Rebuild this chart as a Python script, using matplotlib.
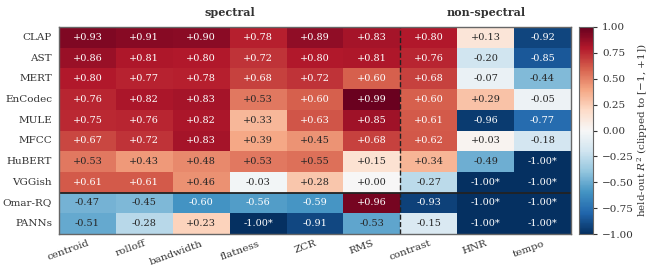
import numpy as np
import matplotlib
matplotlib.use("Agg")
import matplotlib.pyplot as plt
import seaborn as sns

models = ["CLAP", "AST", "MERT", "EnCodec", "MULE", "MFCC", "HuBERT", "VGGish", "Omar-RQ", "PANNs"]
features = ["centroid", "rolloff", "bandwidth", "flatness", "ZCR", "RMS", "contrast", "HNR", "tempo"]

vals_centroid = [0.93, 0.86, 0.80, 0.76, 0.75, 0.67, 0.53, 0.61, -0.47, -0.51]
vals_rolloff = [0.91, 0.81, 0.77, 0.82, 0.76, 0.72, 0.43, 0.61, -0.45, -0.28]
vals_bandwidth = [0.90, 0.80, 0.78, 0.83, 0.82, 0.83, 0.48, 0.46, -0.60, 0.23]
vals_flatness = [0.78, 0.72, 0.68, 0.53, 0.33, 0.39, 0.53, -0.03, -0.56, -1.00]
vals_zcr = [0.89, 0.80, 0.72, 0.60, 0.63, 0.45, 0.55, 0.28, -0.59, -0.91]
vals_rms = [0.83, 0.81, 0.60, 0.99, 0.85, 0.68, 0.15, 0.00, 0.96, -0.53]
vals_contrast = [0.80, 0.76, 0.68, 0.60, 0.61, 0.62, 0.34, -0.27, -0.93, -0.15]
vals_hnr = [0.13, -0.20, -0.07, 0.29, -0.96, 0.03, -0.49, -1.00, -1.00, -1.00]
vals_tempo = [-0.92, -0.85, -0.44, -0.05, -0.77, -0.18, -1.00, -1.00, -1.00, -1.00]
# cells whose raw value was clipped at -1
clipped = [(9, 3), (6, 8), (7, 7), (7, 8), (8, 7), (8, 8), (9, 7), (9, 8)]

data = np.array([vals_centroid, vals_rolloff, vals_bandwidth, vals_flatness, vals_zcr,
                 vals_rms, vals_contrast, vals_hnr, vals_tempo]).T

plt.rcParams['font.family'] = ['DejaVu Serif']
plt.rcParams['mathtext.fontset'] = 'dejavuserif'

fig = plt.figure(figsize=(6.51, 2.74), dpi=100)
W, H = 651, 274
ax = fig.add_axes([59 / W, (H - 234) / H, 512 / W, 207 / H])
cax = fig.add_axes([579 / W, (H - 234) / H, 14 / W, 207 / H])

sns.heatmap(data, ax=ax, cbar_ax=cax, cmap="RdBu_r", vmin=-1, vmax=1,
            annot=False, xticklabels=features, yticklabels=models)

for i in range(data.shape[0]):
    for j in range(data.shape[1]):
        v = data[i, j]
        s = ("+%.2f" % v) if v >= 0 else ("-%.2f" % abs(v))
        if (i, j) in clipped:
            s += "*"
        col = "white" if abs(v) > 0.555 else "#262626"
        ax.text(j + 0.5, i + 0.5, s, ha="center", va="center", fontsize=7, color=col)

for sp in ax.spines.values():
    sp.set_visible(True)
    sp.set_color("#666666")
    sp.set_linewidth(1.0)

ax.axvline(6, color="#222222", linestyle="--", linewidth=1.0)
ax.axhline(8, color="#222222", linestyle="-", linewidth=1.3)

ax.tick_params(axis="both", length=0, labelsize=7.5, colors="#333333")
ax.tick_params(axis="y", pad=5)
ax.set_yticklabels(models, rotation=0)
ax.set_xticklabels(features, rotation=20, ha="right", rotation_mode="anchor")

ax.text(3, -0.45, "spectral", ha="center", va="bottom", fontsize=8, fontweight="bold", color="#333333")
ax.text(7.5, -0.45, "non-spectral", ha="center", va="bottom", fontsize=8, fontweight="bold", color="#333333")

cax.tick_params(labelsize=7.5, length=3, colors="#333333")
cax.set_yticks([-1, -0.75, -0.5, -0.25, 0, 0.25, 0.5, 0.75, 1])
cax.set_yticklabels(["\u22121.00", "\u22120.75", "\u22120.50", "\u22120.25", "0.00", "0.25", "0.50", "0.75", "1.00"])
cax.set_ylabel(r"held-out $R^2$ (clipped to [$-$1, +1])", fontsize=7.5, color="#333333", labelpad=1)
for sp in cax.spines.values():
    sp.set_visible(True)
    sp.set_color("#666666")

fig.savefig("out.png", dpi=100)
